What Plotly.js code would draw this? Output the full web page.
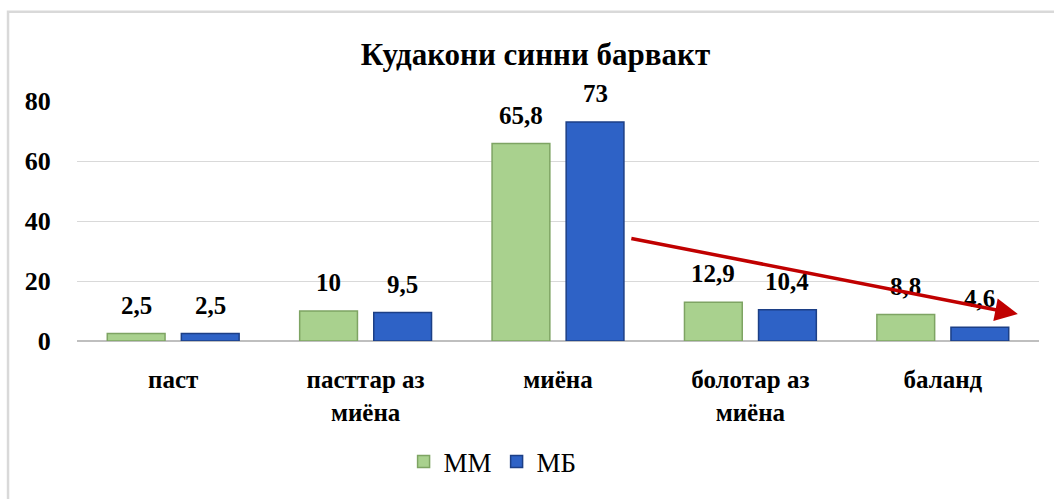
<!DOCTYPE html>
<html>
<head>
<meta charset="utf-8">
<script src="https://cdn.plot.ly/plotly-3.0.1.min.js"></script>
<style>
  html, body { margin: 0; padding: 0; background: #ffffff; }
  #chart { width: 1054px; height: 499px; }
</style>
</head>
<body>
<div id="chart"></div>
<script>
// Categories and series
const categories = ['паст', 'пасттар аз<br>миёна', 'миёна', 'болотар аз<br>миёна', 'баланд'];
const seriesNames = ['ММ', 'МБ'];
const valuesMM = [2.5, 10, 65.8, 12.9, 8.8];
const valuesMB = [2.5, 9.5, 73, 10.4, 4.6];
const yTicks = [0, 20, 40, 60, 80];

const serif = 'Liberation Serif, Times New Roman, serif';

function fmt(v) { return String(v).replace('.', ','); }

const traces = [
  {
    type: 'bar', name: seriesNames[0], x: categories, y: valuesMM,
    marker: { color: '#a9d18e', line: { color: '#7ea463', width: 1.5 } },
    hoverinfo: 'skip'
  },
  {
    type: 'bar', name: seriesNames[1], x: categories, y: valuesMB,
    marker: { color: '#2e62c6', line: { color: '#1c3f86', width: 1.5 } },
    hoverinfo: 'skip'
  }
];

// Value labels above each bar
const annotations = [];
[valuesMM, valuesMB].forEach((vals, si) => {
  vals.forEach((v, i) => {
    annotations.push({
      x: categories[i], y: v, xref: 'x', yref: 'y',
      text: '<b>' + fmt(v) + '</b>', showarrow: false,
      xshift: si === 0 ? -37 : 37, yshift: 13, yanchor: 'bottom',
      font: { family: serif, size: 25, color: '#000000' }
    });
  });
});

// Downward trend arrow
annotations.push({
  xref: 'paper', yref: 'paper', x: 0.978, y: 0.112,
  ax: -388, ay: -76, axref: 'pixel', ayref: 'pixel',
  text: '', showarrow: true, arrowhead: 2, arrowsize: 1.3,
  arrowwidth: 3.5, arrowcolor: '#c00000', standoff: 0
});

const layout = {
  width: 1054, height: 499,
  margin: { l: 77, r: 15, t: 101, b: 156 },
  paper_bgcolor: '#ffffff', plot_bgcolor: '#ffffff',
  title: {
    text: '<b>Кудакони синни барвакт</b>',
    font: { family: serif, size: 31, color: '#000000' },
    x: 0.508, xanchor: 'center', y: 0.892, yanchor: 'middle', yref: 'container'
  },
  barmode: 'group', bargap: 0.23, bargroupgap: 0.22,
  xaxis: {
    type: 'category', showgrid: false, showline: false, zeroline: false,
    ticks: 'outside', ticklen: 16, tickcolor: 'rgba(0,0,0,0)',
    tickfont: { family: serif, size: 25, color: '#000000', weight: 'bold' }
  },
  yaxis: {
    range: [0, 80], tickvals: yTicks, ticktext: yTicks.map(t => '<b>' + t + '</b>'),
    showgrid: true, gridcolor: '#d9d9d9', gridwidth: 1,
    zeroline: true, zerolinecolor: '#bfbfbf', zerolinewidth: 1.5,
    showline: false, ticks: 'outside', ticklen: 20, tickcolor: 'rgba(0,0,0,0)',
    tickfont: { family: serif, size: 26, color: '#000000' }
  },
  showlegend: true,
  legend: {
    orientation: 'h', x: 0.432, xanchor: 'center', y: -0.504, yanchor: 'middle',
    font: { family: serif, size: 27, color: '#000000' },
    itemwidth: 30, traceorder: 'normal'
  },
  annotations: annotations,
  shapes: [
    {
      type: 'rect', xref: 'paper', yref: 'paper', layer: 'below',
      x0: -0.0717, x1: 1.2, y0: -1.0, y1: 1.372,
      line: { color: '#d9d9d9', width: 2.5 }, fillcolor: 'rgba(0,0,0,0)'
    }
  ]
};

Plotly.newPlot('chart', traces, layout, { displayModeBar: false, staticPlot: true });
</script>
</body>
</html>
